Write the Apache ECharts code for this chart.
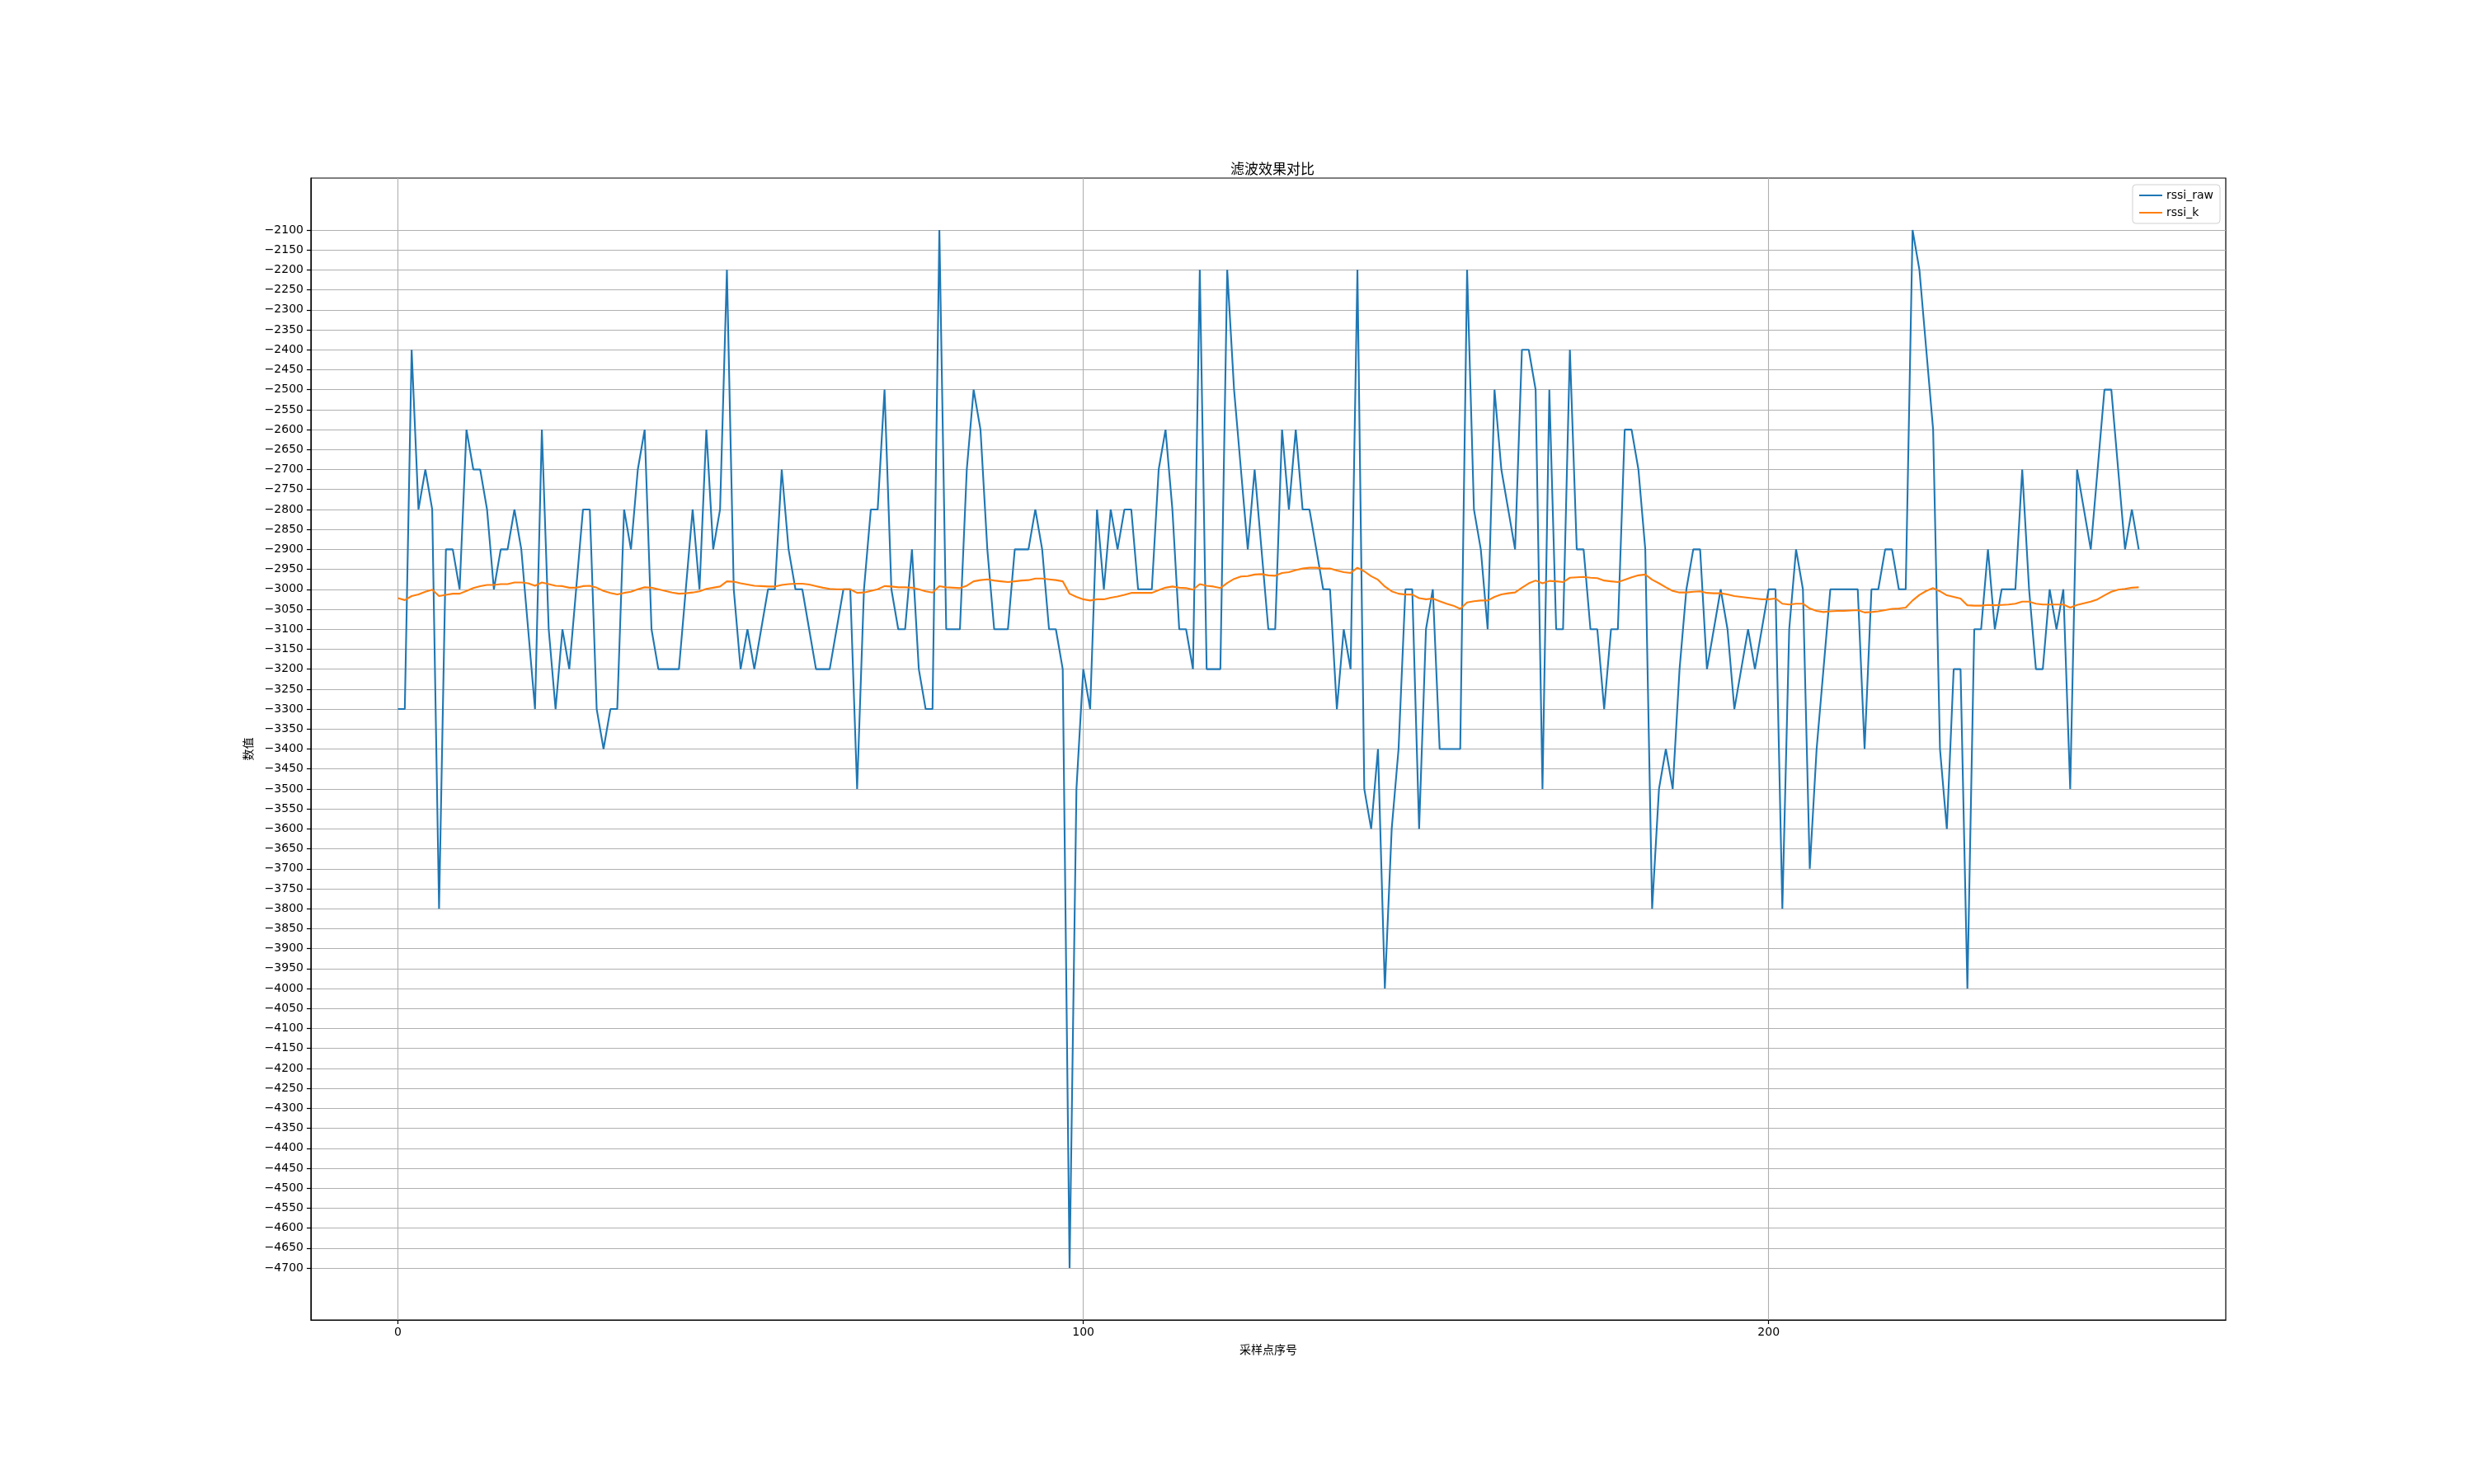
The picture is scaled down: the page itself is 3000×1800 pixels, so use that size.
<!DOCTYPE html>
<html>
<head>
<meta charset="utf-8">
<script src="https://cdn.jsdelivr.net/npm/echarts@6/dist/echarts.min.js"></script>
<style>
html,body{margin:0;padding:0;background:#fff;}
#chart{width:3000px;height:1800px;}
</style>
</head>
<body>
<div id="chart"></div>
<script>
var titleText = '滤波效果对比';
var xName = '采样点序号';
var yName = '数值';
var seriesNames = ['rssi_raw', 'rssi_k'];

var rssiRaw = [
-3300,-3300,-2400,-2800,-2700,-2800,-3800,-2900,-2900,-3000,
-2600,-2700,-2700,-2800,-3000,-2900,-2900,-2800,-2900,-3100,
-3300,-2600,-3100,-3300,-3100,-3200,-3000,-2800,-2800,-3300,
-3400,-3300,-3300,-2800,-2900,-2700,-2600,-3100,-3200,-3200,
-3200,-3200,-3000,-2800,-3000,-2600,-2900,-2800,-2200,-3000,
-3200,-3100,-3200,-3100,-3000,-3000,-2700,-2900,-3000,-3000,
-3100,-3200,-3200,-3200,-3100,-3000,-3000,-3500,-3000,-2800,
-2800,-2500,-3000,-3100,-3100,-2900,-3200,-3300,-3300,-2100,
-3100,-3100,-3100,-2700,-2500,-2600,-2900,-3100,-3100,-3100,
-2900,-2900,-2900,-2800,-2900,-3100,-3100,-3200,-4700,-3500,
-3200,-3300,-2800,-3000,-2800,-2900,-2800,-2800,-3000,-3000,
-3000,-2700,-2600,-2800,-3100,-3100,-3200,-2200,-3200,-3200,
-3200,-2200,-2500,-2700,-2900,-2700,-2900,-3100,-3100,-2600,
-2800,-2600,-2800,-2800,-2900,-3000,-3000,-3300,-3100,-3200,
-2200,-3500,-3600,-3400,-4000,-3600,-3400,-3000,-3000,-3600,
-3100,-3000,-3400,-3400,-3400,-3400,-2200,-2800,-2900,-3100,
-2500,-2700,-2800,-2900,-2400,-2400,-2500,-3500,-2500,-3100,
-3100,-2400,-2900,-2900,-3100,-3100,-3300,-3100,-3100,-2600,
-2600,-2700,-2900,-3800,-3500,-3400,-3500,-3200,-3000,-2900,
-2900,-3200,-3100,-3000,-3100,-3300,-3200,-3100,-3200,-3100,
-3000,-3000,-3800,-3100,-2900,-3000,-3700,-3400,-3200,-3000,
-3000,-3000,-3000,-3000,-3400,-3000,-3000,-2900,-2900,-3000,
-3000,-2100,-2200,-2400,-2600,-3400,-3600,-3200,-3200,-4000,
-3100,-3100,-2900,-3100,-3000,-3000,-3000,-2700,-3000,-3200,
-3200,-3000,-3100,-3000,-3500,-2700,-2800,-2900,-2700,-2500,
-2500,-2700,-2900,-2800,-2900
];

var rssiK = [
-3022,-3027,-3017,-3013,-3006,-3001,-3017,-3014,-3011,-3011,
-3004,-2997,-2992,-2989,-2989,-2987,-2987,-2983,-2983,-2985,
-2991,-2983,-2987,-2991,-2992,-2996,-2996,-2992,-2991,-2996,
-3004,-3009,-3013,-3009,-3006,-3000,-2995,-2996,-3000,-3004,
-3008,-3011,-3010,-3008,-3005,-2999,-2996,-2993,-2980,-2981,
-2985,-2988,-2991,-2992,-2993,-2993,-2989,-2987,-2986,-2986,
-2988,-2992,-2996,-2999,-3000,-3000,-3000,-3009,-3008,-3004,
-3000,-2992,-2993,-2995,-2995,-2996,-3000,-3005,-3008,-2992,
-2995,-2996,-2997,-2991,-2980,-2977,-2975,-2978,-2980,-2982,
-2980,-2978,-2977,-2973,-2973,-2975,-2977,-2980,-3011,-3019,
-3025,-3028,-3025,-3025,-3021,-3018,-3014,-3009,-3009,-3009,
-3009,-3002,-2996,-2993,-2996,-2997,-3001,-2987,-2991,-2993,
-2997,-2984,-2974,-2968,-2967,-2963,-2962,-2965,-2966,-2959,
-2957,-2952,-2948,-2946,-2946,-2948,-2948,-2953,-2957,-2959,
-2946,-2955,-2967,-2976,-2993,-3005,-3011,-3013,-3013,-3022,
-3025,-3023,-3030,-3036,-3041,-3049,-3033,-3030,-3028,-3028,
-3019,-3013,-3010,-3008,-2996,-2985,-2978,-2985,-2979,-2980,
-2982,-2971,-2970,-2969,-2971,-2972,-2978,-2980,-2982,-2976,
-2970,-2965,-2963,-2976,-2985,-2995,-3004,-3008,-3008,-3006,
-3005,-3009,-3010,-3010,-3013,-3017,-3019,-3021,-3023,-3025,
-3025,-3023,-3036,-3038,-3036,-3036,-3048,-3054,-3057,-3055,
-3054,-3054,-3053,-3052,-3058,-3057,-3055,-3052,-3049,-3048,
-3046,-3028,-3014,-3004,-2997,-3005,-3015,-3019,-3023,-3040,
-3041,-3041,-3039,-3040,-3039,-3038,-3036,-3031,-3031,-3036,
-3038,-3038,-3038,-3038,-3046,-3039,-3035,-3031,-3025,-3015,
-3006,-3001,-2999,-2996,-2995
];

var xTicks = [0, 100, 200];
var yTicks = [
-4700,-4650,-4600,-4550,-4500,-4450,-4400,-4350,-4300,-4250,
-4200,-4150,-4100,-4050,-4000,-3950,-3900,-3850,-3800,-3750,
-3700,-3650,-3600,-3550,-3500,-3450,-3400,-3350,-3300,-3250,
-3200,-3150,-3100,-3050,-3000,-2950,-2900,-2850,-2800,-2750,
-2700,-2650,-2600,-2550,-2500,-2450,-2400,-2350,-2300,-2250,
-2200,-2150,-2100
];

function pairs(arr) {
  var out = [];
  for (var i = 0; i < arr.length; i++) out.push([i, arr[i]]);
  return out;
}

var FONT = '"DejaVu Sans", "Noto Sans CJK SC", sans-serif';
var n = rssiRaw.length - 1;
var xPad = n * 0.05;
var yMinD = Math.min.apply(null, rssiRaw.concat(rssiK));
var yMaxD = Math.max.apply(null, rssiRaw.concat(rssiK));
var yPad = (yMaxD - yMinD) * 0.05;

var chart = echarts.init(document.getElementById('chart'), null, {renderer: 'canvas'});
chart.setOption({
  animation: false,
  backgroundColor: '#ffffff',
  title: {
    text: titleText,
    left: 1538,
    top: 193,
    textAlign: 'center',
    textStyle: {fontFamily: FONT, fontSize: 17, fontWeight: 'normal', color: '#000'}
  },
  legend: {
    orient: 'vertical',
    right: 308,
    top: 224,
    padding: [6, 8, 6, 8],
    itemGap: 7,
    itemWidth: 28,
    itemHeight: 2,
    icon: 'rect',
    backgroundColor: 'rgba(255,255,255,0.8)',
    borderColor: '#d0d0d0',
    borderWidth: 1,
    borderRadius: 4,
    textStyle: {fontFamily: FONT, fontSize: 14, color: '#000'},
    data: seriesNames
  },
  grid: {left: 377, right: 301, top: 216, bottom: 199, show: true, borderColor: '#000', borderWidth: 1.2, containLabel: false},
  xAxis: {
    type: 'value',
    min: -xPad,
    max: n + xPad,
    name: xName,
    nameLocation: 'middle',
    nameGap: 30,
    nameTextStyle: {fontFamily: FONT, fontSize: 14, color: '#000'},
    axisLine: {show: true, onZero: false, lineStyle: {color: '#000', width: 1.2}},
    axisTick: {show: true, length: 5, lineStyle: {color: '#000', width: 1.2}, customValues: xTicks},
    axisLabel: {fontFamily: FONT, fontSize: 14, color: '#000', margin: 8, customValues: xTicks},
    splitLine: {show: true, lineStyle: {color: '#b0b0b0', width: 1.1}}
  },
  yAxis: {
    type: 'value',
    min: yMinD - yPad,
    max: yMaxD + yPad,
    name: yName,
    nameLocation: 'middle',
    nameGap: 66,
    nameTextStyle: {fontFamily: FONT, fontSize: 14, color: '#000'},
    axisLine: {show: true, onZero: false, lineStyle: {color: '#000', width: 1.2}},
    axisTick: {show: true, length: 5, lineStyle: {color: '#000', width: 1.2}, customValues: yTicks},
    axisLabel: {
      fontFamily: FONT, fontSize: 14, color: '#000', margin: 9, customValues: yTicks,
      formatter: function (v) { return String(v).replace('-', '\u2212'); }
    },
    splitLine: {show: true, lineStyle: {color: '#b0b0b0', width: 1.1}}
  },
  series: [
    {
      name: seriesNames[0],
      type: 'line',
      data: pairs(rssiRaw),
      showSymbol: false,
      symbol: 'none',
      color: '#1f77b4',
      lineStyle: {color: '#1f77b4', width: 2.1},
      z: 2
    },
    {
      name: seriesNames[1],
      type: 'line',
      data: pairs(rssiK),
      showSymbol: false,
      symbol: 'none',
      color: '#ff7f0e',
      lineStyle: {color: '#ff7f0e', width: 2.1},
      z: 3
    }
  ]
});
</script>
</body>
</html>
